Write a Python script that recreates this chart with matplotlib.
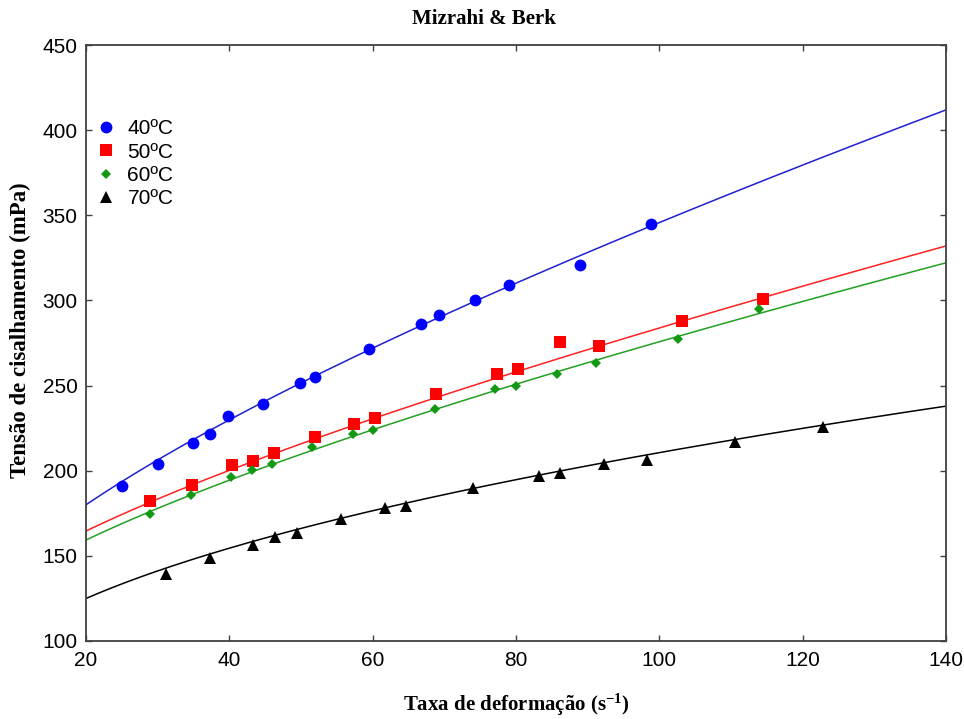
import numpy as np
import matplotlib
matplotlib.use('Agg')
import matplotlib.pyplot as plt

# shear rate (1/s) and shear stress (mPa)
rate_40 = [25.0, 30.1, 35.0, 37.3, 39.8, 44.7, 49.8, 52.0, 59.5, 66.8, 69.3, 74.3, 79.0, 88.9, 98.8]
stress_40 = [191.0, 204.1, 216.5, 221.4, 232.1, 239.0, 251.3, 254.9, 271.5, 286.2, 291.5, 300.3, 308.9, 321.0, 344.9]

rate_50 = [29.0, 34.8, 40.4, 43.3, 46.2, 51.9, 57.4, 60.3, 68.9, 77.3, 80.3, 86.1, 91.6, 103.1, 114.5]
stress_50 = [182.2, 191.8, 203.4, 205.7, 210.2, 219.6, 227.5, 231.1, 245.1, 256.6, 259.7, 275.6, 273.2, 288.1, 301.0]

rate_60 = [28.9, 34.6, 40.2, 43.1, 46.0, 51.6, 57.2, 60.1, 68.7, 77.1, 80.0, 85.7, 91.2, 102.6, 113.9]
stress_60 = [174.6, 185.6, 196.3, 200.3, 204.0, 213.8, 221.6, 224.1, 236.3, 247.8, 249.6, 256.6, 263.4, 277.4, 295.0]

rate_70 = [31.1, 37.3, 43.3, 46.4, 49.5, 55.6, 61.7, 64.7, 74.0, 83.2, 86.2, 92.3, 98.3, 110.6, 122.8]
stress_70 = [139.4, 148.9, 156.6, 161.1, 163.6, 171.5, 178.3, 179.3, 190.0, 196.9, 198.9, 204.0, 206.5, 216.9, 225.7]

labels = ['40ºC', '50ºC', '60ºC', '70ºC']

# Mizrahi & Berk model: sqrt(tau) = K0 + K * rate^n  (parameters)
k0_fit = [9.103, 9.896, 9.561, 5.451]
k_fit = [0.9938, 0.5889, 0.6484, 2.439]
n_fit = [0.49, 0.536, 0.518, 0.285]

plt.rcParams['font.family'] = ['Liberation Sans', 'DejaVu Sans']
plt.rcParams['mathtext.fontset'] = 'custom'
plt.rcParams['mathtext.rm'] = 'Liberation Serif:bold'
plt.rcParams['mathtext.it'] = 'Liberation Serif:bold'
plt.rcParams['mathtext.bf'] = 'Liberation Serif:bold'

fig = plt.figure(figsize=(9.64, 7.19), dpi=100)
ax = fig.add_axes([0.0892, 0.1085, 0.8921, 0.8289])

series = [
    (rate_40, stress_40, 'o', '#0000ff', '#2020d0', 8.5),
    (rate_50, stress_50, 's', '#ff0000', '#ff2020', 8.0),
    (rate_60, stress_60, 'D', '#119911', '#22a022', 5.0),
    (rate_70, stress_70, '^', '#000000', '#000000', 8.0),
]

xfit = np.linspace(20, 140, 300)
for i, (x, y, mk, mc, lc, ms) in enumerate(series):
    yfit = (k0_fit[i] + k_fit[i] * xfit ** n_fit[i]) ** 2
    ax.plot(xfit, yfit, color=lc, lw=1.1, zorder=2)
    ax.plot(x, y, linestyle='none', marker=mk, color=mc, markersize=ms,
            markeredgewidth=0, label=labels[i], zorder=3)

ax.set_xlim(20, 140)
ax.set_ylim(100, 450)
ax.set_xticks(np.arange(20, 141, 20))
ax.set_yticks(np.arange(100, 451, 50))
ax.tick_params(direction='in', length=4, width=1, top=True, right=True,
               labelsize=15, pad=7, color='#404040')
ax.tick_params(axis='y', pad=6)
for sp in ax.spines.values():
    sp.set_color('#404040')
    sp.set_linewidth(1.3)

fig.text(0.502, 0.973, 'Mizrahi & Berk', family='Liberation Serif', fontweight='bold',
         fontsize=15, ha='center', va='center')
ax.set_xlabel(r'Taxa de deformação (s$^{\mathbf{-1}}$)', fontfamily='Liberation Serif',
              fontweight='bold', fontsize=15, labelpad=16)
ax.set_ylabel('Tensão de cisalhamento (mPa)', fontfamily='Liberation Serif',
              fontweight='bold', fontsize=16.5)
ax.yaxis.set_label_coords(-0.064, 0.522)

ax.legend(loc='upper left', bbox_to_anchor=(-0.008, 0.9), frameon=False, fontsize=15,
          handletextpad=0.42, labelspacing=0.21, borderaxespad=0.3, handlelength=1.2)

fig.savefig('out.png', dpi=100)
